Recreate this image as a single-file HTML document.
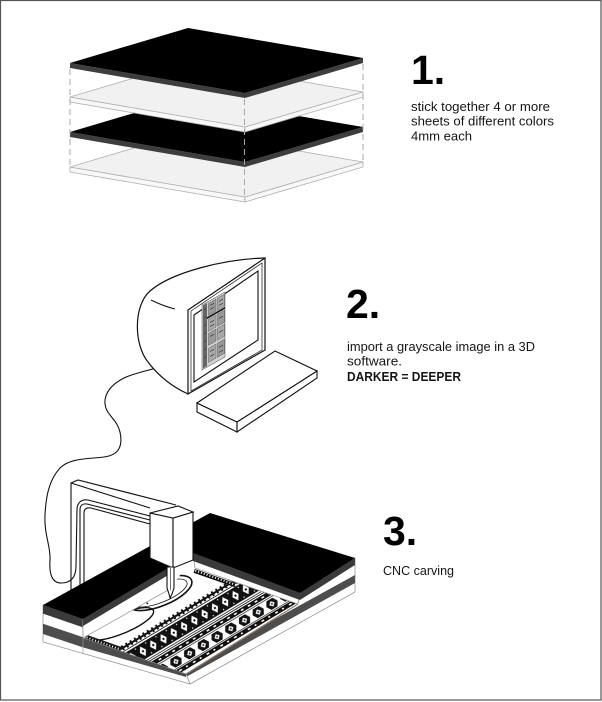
<!DOCTYPE html>
<html><head><meta charset="utf-8">
<style>
html,body{margin:0;padding:0;background:#fff;}
svg{display:block;}
text{font-family:"Liberation Sans",Arial,sans-serif;fill:#151515;}
</style></head><body>
<svg width="602" height="702" viewBox="0 0 602 702" xmlns="http://www.w3.org/2000/svg">
<defs>
  <pattern id="pB" width="12" height="20.6" patternUnits="userSpaceOnUse">
    <rect width="12" height="20.6" fill="#fff"/>
    <rect y="0" width="12" height="1" fill="#222"/>
    <rect y="2.5" width="12" height="15.6" fill="#111"/>
    <path d="M2.5,10.3 l3.5,-5.5 l3.5,5.5 l-3.5,5.5z" fill="#fff"/>
    <rect x="5" y="9.3" width="2" height="2" fill="#111"/>
    <rect x="0" y="4" width="1.2" height="1.2" fill="#fff"/>
    <rect x="0" y="15.4" width="1.2" height="1.2" fill="#fff"/>
    <rect y="19.6" width="12" height="1" fill="#444"/>
  </pattern>
  <pattern id="pC" width="16" height="32" patternUnits="userSpaceOnUse">
    <rect width="16" height="32" fill="#fff"/>
    <rect y="1" width="16" height="1" fill="#333"/>
    <rect y="3" width="16" height="4.5" fill="#111"/>
    <rect x="2" y="4.5" width="3" height="1.5" fill="#fff"/>
    <rect x="10" y="4.5" width="3" height="1.5" fill="#fff"/>
    <rect y="8.5" width="16" height="0.8" fill="#333"/>
    <path d="M1.5,15.5 l3,-5 h7 l3,5 l-3,5 h-7z" fill="#111"/>
    <path d="M5,15.5 l3,-3 l3,3 l-3,3z" fill="#fff"/>
    <rect x="7.2" y="14.7" width="1.6" height="1.6" fill="#111"/>
    <rect y="21.5" width="16" height="0.8" fill="#333"/>
    <rect y="23" width="16" height="4.5" fill="#111"/>
    <rect x="6" y="24.5" width="3" height="1.5" fill="#fff"/>
    <rect x="14" y="24.5" width="2" height="1.5" fill="#fff"/>
    <rect y="28.5" width="16" height="3.5" fill="#fff"/>
  </pattern>
  <pattern id="pCh" width="5" height="6" patternUnits="userSpaceOnUse">
    <rect width="5" height="6" fill="#fff"/>
    <rect y="2" width="5" height="2" fill="#111"/>
    <rect x="1.5" y="0.3" width="2" height="5.4" fill="#111"/>
  </pattern>
  <pattern id="pLad" width="3" height="4" patternUnits="userSpaceOnUse">
    <rect width="3" height="4" fill="#111"/>
    <rect x="1" y="1" width="1" height="2" fill="#fff"/>
  </pattern>
  <clipPath id="floorClip">
    <polygon points="83,638 170,589 180,575 195,568 298,604 186,674"/>
  </clipPath>
</defs>

<rect x="0" y="0" width="602" height="702" fill="#fff"/>
<rect x="0.5" y="0.5" width="600.5" height="699.5" fill="none" stroke="#555" stroke-width="1.2"/>

<!-- ===== Section 1: sheets ===== -->
<polygon points="70,167 245,197 245,202 70,172" fill="#f8f8f8" stroke="#b0b0b0" stroke-width="0.8"/>
<polygon points="245,197 363,162 363,167 245,202" fill="#f8f8f8" stroke="#b0b0b0" stroke-width="0.8"/>
<polygon points="70,167 188,132 363,162 245,197" fill="#f1f1f2" stroke="#b0b0b0" stroke-width="0.8"/>
<polygon points="70,132 245,162 245,167 70,137" fill="#3d3d3d"/>
<polygon points="245,162 363,127 363,132 245,167" fill="#3d3d3d"/>
<polygon points="70,132 188,97 363,127 245,162" fill="#000"/>
<polygon points="70,97 245,127 245,132 70,102" fill="#f8f8f8" stroke="#b0b0b0" stroke-width="0.8"/>
<polygon points="245,127 363,92 363,97 245,132" fill="#f8f8f8" stroke="#b0b0b0" stroke-width="0.8"/>
<polygon points="70,97 188,62 363,92 245,127" fill="#f1f1f2" stroke="#b0b0b0" stroke-width="0.8"/>
<polygon points="70,63 245,93 245,98 70,68" fill="#3d3d3d"/>
<polygon points="245,93 363,58 363,63 245,98" fill="#3d3d3d"/>
<polygon points="70,63 188,28 363,58 245,93" fill="#000"/>
<g stroke="#a8a8a8" stroke-width="1" stroke-dasharray="6 4" fill="none">
  <line x1="70" y1="69" x2="70" y2="167"/>
  <line x1="244.5" y1="99" x2="244.5" y2="200"/>
  <line x1="363" y1="64" x2="363" y2="162"/>
</g>

<text x="411" y="84" font-size="41" font-weight="bold" style="fill:#000">1.</text>
<text x="411" y="111" font-size="13" textLength="139" lengthAdjust="spacingAndGlyphs">stick together 4 or more</text>
<text x="411" y="125.5" font-size="13" textLength="143" lengthAdjust="spacingAndGlyphs">sheets of different colors</text>
<text x="411" y="140.5" font-size="13" textLength="61" lengthAdjust="spacingAndGlyphs">4mm each</text>

<!-- ===== Section 2: computer ===== -->
<path d="M156,368 C146,371 132,374 124,378 C112,384 104,393 105,404 C106,415 117,419 120,432 C123,446 119,455 104,457 C88,459 70,458 60,468 C49,480 46,496 45,515 C44,535 51,547 50,560 C49,574 52,583 61,583 C71,583 76,577 76,566 L77,510 C77,503 81,499 88,500 L150,516" fill="none" stroke="#111" stroke-width="1.1"/>

<path d="M265,258 C225,259 172,272 150,291 C133,306 134,345 148,362 C160,378 175,388 188,394" fill="#fff" stroke="#111" stroke-width="1.2"/>
<path d="M151,300 Q163,306 175,309" fill="none" stroke="#111" stroke-width="1"/>
<polygon points="188,310 265,258 265,350 188,394" fill="#fff" stroke="#111" stroke-width="1.2"/>
<polygon points="191,311 262,263 262,350 191,391" fill="none" stroke="#111" stroke-width="0.7"/>
<polygon points="194,315 258,271 258,340 194,382" fill="#fff" stroke="#111" stroke-width="1.1"/>
<g transform="matrix(1,-0.565,0,1,202,305)">
  <rect x="0" y="0" width="23" height="65" fill="#d0d0d0" stroke="#444" stroke-width="0.5"/>
  <rect x="1" y="1" width="4" height="63" fill="#666"/>
  <rect x="6.5" y="2" width="7.5" height="12" fill="#9a9a9a" stroke="#444" stroke-width="0.4"/>
  <rect x="15.5" y="2" width="7" height="12" fill="#a8a8a8" stroke="#444" stroke-width="0.4"/>
  <rect x="5" y="15" width="18" height="1.8" fill="#111"/>
  <rect x="6.5" y="18" width="7.5" height="12" fill="#a8a8a8" stroke="#444" stroke-width="0.4"/>
  <rect x="15.5" y="18" width="7" height="12" fill="#9a9a9a" stroke="#444" stroke-width="0.4"/>
  <rect x="6.5" y="32" width="7.5" height="12" fill="#9a9a9a" stroke="#444" stroke-width="0.4"/>
  <rect x="15.5" y="32" width="7" height="12" fill="#a8a8a8" stroke="#444" stroke-width="0.4"/>
  <rect x="6.5" y="47" width="7.5" height="14" fill="#a8a8a8" stroke="#444" stroke-width="0.4"/>
  <rect x="15.5" y="47" width="7" height="14" fill="#9a9a9a" stroke="#444" stroke-width="0.4"/>
  <path d="M8,5 h4 M8,9 h4 M17,6 h4 M17,10 h4 M8,22 h4 M8,26 h4 M17,23 h4 M8,36 h4 M17,37 h4 M8,51 h4 M8,56 h4 M17,52 h4 M17,57 h4 M2,6 h2 M2,14 h2 M2,22 h2 M2,30 h2 M2,38 h2 M2,46 h2 M2,54 h2" stroke="#333" stroke-width="0.8"/>
</g>

<polygon points="197,403 237,422 237,432 197,412" fill="#fff" stroke="#111" stroke-width="1.1"/>
<polygon points="237,422 317,371 317,378 237,432" fill="#fff" stroke="#111" stroke-width="1.1"/>
<polygon points="197,403 275,351 317,371 237,422" fill="#fff" stroke="#111" stroke-width="1.1"/>

<text x="346" y="318" font-size="41" font-weight="bold" style="fill:#000">2.</text>
<text x="347" y="351" font-size="13" textLength="188" lengthAdjust="spacingAndGlyphs">import a grayscale image in a 3D</text>
<text x="347" y="365.5" font-size="13" textLength="55" lengthAdjust="spacingAndGlyphs">software.</text>
<text x="347" y="381" font-size="13" font-weight="bold" textLength="114" lengthAdjust="spacingAndGlyphs">DARKER = DEEPER</text>

<!-- ===== Section 3: CNC ===== -->
<g fill="none" stroke="#111" stroke-width="1.1">
  <path d="M71,592 L71,483 L78,480 L176,505"/>
  <path d="M71,483 L150,508"/>
  <path d="M80,592 L80,510 Q80,503 87,504 L150,520"/>
  <path d="M84,592 L84,513 Q84,507 91,508 L150,524"/>
</g>

<polygon points="186,674 298,604 300,593 355,558 355,592 190,684" fill="#fff" stroke="#999" stroke-width="0.8"/>
<polygon points="300,593 355,558 355,565 300,600" fill="#3a3a3a"/>
<polygon points="355,575 355,583 186,677 186,668" fill="#4d4d4d"/>
<polygon points="43,605 83,619 83,638 186,674 190,684 43,642" fill="#fff" stroke="#999" stroke-width="0.8"/>
<polygon points="43,605 83,619 83,627.4 43,613.6" fill="#3a3a3a"/>
<polygon points="43,623.7 83,637.2 186,674 186,677 83,647.4 43,634" fill="#4d4d4d"/>
<line x1="83" y1="619" x2="83" y2="653.5" stroke="#999" stroke-width="0.7"/>

<polygon points="83,638 170,589 180,575 195,568 298,604 186,674" fill="#fff"/>
<g clip-path="url(#floorClip)">
  <ellipse cx="160" cy="593" rx="34" ry="13" transform="rotate(-22 160 593)" stroke="#111" stroke-width="1.6" fill="none"/>
  <ellipse cx="160" cy="593" rx="29" ry="9.5" transform="rotate(-22 160 593)" stroke="#111" stroke-width="0.8" fill="none"/>
  <ellipse cx="120" cy="624" rx="36" ry="10" transform="rotate(-22 120 624)" stroke="#111" stroke-width="1.4" fill="none"/>
  <path d="M90,628 a5,5 0 0 1 9,-4 a5,5 0 0 1 10,-4 a5,5 0 0 1 10,-4 a5,5 0 0 1 10,-4 a5,5 0 0 1 10,-4 a5,5 0 0 1 9,-4" stroke="#111" stroke-width="1.2" fill="none"/>
  <g transform="translate(122.2,651.7) rotate(-31)">
    <rect x="-10" y="-6" width="160" height="6" fill="url(#pCh)"/>
    <rect x="-10" y="0" width="160" height="20.6" fill="url(#pB)"/>
    <line x1="-10" y1="-0.2" x2="150" y2="-0.2" stroke="#fff" stroke-width="0.6"/>
  </g>
  <g transform="translate(147.4,660.6) rotate(-31)">
    <rect x="-20" y="0" width="190" height="32" fill="url(#pC)"/>
  </g>
  <g transform="translate(195,568.5) rotate(19.3)">
    <rect x="0" y="0.5" width="44" height="4" fill="url(#pLad)"/>
  </g>
  <g transform="translate(85,639) rotate(19.3)">
    <rect x="0" y="-4.5" width="37" height="4" fill="url(#pLad)"/>
  </g>
</g>
<line x1="186" y1="674" x2="298" y2="604" stroke="#8f7f70" stroke-width="1.3"/>
<line x1="83" y1="638" x2="186" y2="674" stroke="#777" stroke-width="0.8"/>

<polygon points="83,619 170,567 170,589 83,638" fill="#fff" stroke="#999" stroke-width="0.8"/>
<polygon points="83,619 170,567 170,574 83,626" fill="#3a3a3a"/>
<polygon points="193,553 300,593 298,604 195,568" fill="#fff" stroke="#999" stroke-width="0.8"/>
<polygon points="193,553 300,593 300,600 193,561" fill="#3a3a3a"/>
<polygon points="43,605 210,513 355,558 300,593 193,553 180,556 170,567 83,619" fill="#000"/>

<g fill="#fff" stroke="#111" stroke-width="1.1">
  <polygon points="150,513 173,518 173,568 150,558"/>
  <polygon points="173,518 193,512 193,560 173,568"/>
  <polygon points="150,513 178,506 193,512 173,518"/>
  <path d="M167,567 L167,588 L169,594 L170,598 L172,594 L174,588 L174,567 Z"/>
</g>
<line x1="170.5" y1="568" x2="170.5" y2="590" stroke="#111" stroke-width="0.6"/>

<text x="383" y="545" font-size="41" font-weight="bold" style="fill:#000">3.</text>
<text x="383" y="575" font-size="13" textLength="71" lengthAdjust="spacingAndGlyphs">CNC carving</text>
</svg>
</body></html>
